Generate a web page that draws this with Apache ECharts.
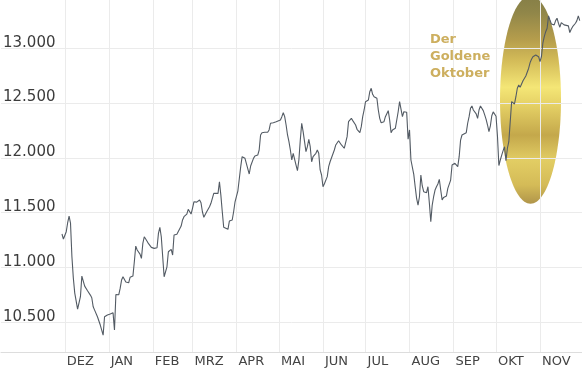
<!DOCTYPE html>
<html><head><meta charset="utf-8">
<script src="https://cdn.jsdelivr.net/npm/echarts@6/dist/echarts.min.js"></script>
<style>html,body{margin:0;padding:0;background:#fff}#c{width:582px;height:370px}</style>
</head><body><div id="c"></div>
<script>
// German month tick labels (index = JS month)
const monthNames = ['JAN','FEB','MRZ','APR','MAI','JUN','JUL','AUG','SEP','OKT','NOV','DEZ'];
// y-axis tick labels
const yTicks = [10500, 11000, 11500, 12000, 12500, 13000];
// Annotation text
const annotation = ['Der', 'Goldene', 'Oktober'];
// Days since 2018-12-01 for each reading
const dayOffsets = [-2,-1,1,2,3,4,5,6,7,9,11,12,13,14,16,18,19,20,21,23,25,27,28,30,32,33,34,35,36,37,38,39,40,41,43,45,46,48,49,50,51,53,54,55,56,58,59,61,63,65,66,67,68,70,72,73,75,76,77,79,80,82,83,84,86,87,89,90,91,93,95,96,97,98,100,102,103,105,106,108,109,110,111,112,113,115,116,118,119,120,122,123,124,125,127,128,130,131,133,134,136,137,138,139,141,143,144,145,146,147,149,150,152,153,154,155,156,157,158,159,160,161,163,164,165,166,167,168,169,170,171,172,173,174,175,177,178,179,180,181,182,183,185,186,187,188,190,191,193,194,195,197,198,199,200,202,203,205,206,208,209,210,211,212,214,215,216,217,218,220,221,222,223,225,226,228,229,230,231,233,234,235,236,237,238,239,240,241,242,243,244,246,247,248,249,250,251,252,253,255,256,257,258,259,260,261,262,263,264,265,266,267,269,270,271,272,273,274,275,277,278,279,280,281,283,284,285,286,287,288,290,291,292,293,295,296,297,298,299,300,301,302,303,304,305,306,307,308,309,310,311,312,313,314,315,316,317,318,319,320,321,322,323,325,326,327,328,329,330,332,333,334,335,336,337,338,339,340,341,342,343,345,346,347,348,349,350,351,352,353,355,356,357,358,360,361,362,363];
// Index values
const values = [11306,11260,11327,11409,11470,11406,11099,10904,10767,10621,10734,10922,10922,10831,10788,10749,10725,10642,10612,10551,10476,10384,10551,10567,10576,10567,10587,10430,10755,10749,10752,10810,10886,10916,10868,10861,10911,10922,11053,11196,11160,11123,11084,11221,11281,11240,11218,11184,11175,11181,11312,11367,11281,10916,11007,11144,11166,11114,11297,11303,11312,11379,11434,11464,11488,11531,11488,11540,11600,11597,11616,11591,11509,11458,11509,11555,11586,11677,11671,11677,11783,11661,11509,11367,11358,11349,11424,11434,11509,11600,11700,11810,11920,12011,11996,11981,11853,11926,11996,12017,12026,12072,12209,12230,12234,12234,12255,12316,12300,12321,12330,12340,12346,12376,12412,12376,12300,12209,12148,12072,11981,12042,11935,11883,11981,12163,12316,12239,12148,12057,12102,12170,12102,11965,12011,12042,12072,12042,11890,11844,11737,11765,11829,11920,11965,11951,12072,12118,12157,12170,12118,12088,12088,12194,12330,12361,12340,12300,12261,12230,12285,12376,12437,12513,12528,12604,12635,12580,12558,12544,12437,12361,12321,12330,12376,12431,12346,12230,12255,12270,12285,12421,12513,12528,12376,12421,12416,12416,12170,12255,11981,11850,11737,11631,11570,11646,11844,11744,11692,11683,11737,11586,11418,11570,11646,11707,11737,11762,11805,11707,11616,11640,11652,11722,11707,11798,11935,11951,11951,11920,12011,12163,12209,12218,12230,12316,12376,12452,12474,12437,12401,12361,12437,12474,12431,12392,12352,12300,12239,12292,12384,12420,12437,12380,12200,11930,11981,12026,12066,12102,11974,12088,12148,12330,12513,12498,12492,12558,12635,12665,12644,12656,12704,12747,12756,12818,12869,12900,12923,12939,12948,12923,12878,12923,13046,13106,13151,13182,13295,13258,13222,13213,13252,13274,13228,13192,13234,13222,13213,13228,13204,13143,13173,13197,13228,13252,13295,13252];

const DAY = 864e5;
const base = new Date(2018, 11, 1).getTime();
const monthStarts = [];
for (let i = 0; i < 12; i++) monthStarts.push(new Date(2018, 11 + i, 1).getTime());
const seriesData = dayOffsets.map((d, i) => [base + d * DAY, values[i]]);
const fmt = v => String(v).replace(/\B(?=(\d{3})+(?!\d))/g, '.');

const chart = echarts.init(document.getElementById('c'), null, {renderer: 'canvas'});
chart.setOption({
  animation: false,
  grid: {left: 0, right: 0, top: 0, bottom: 18, containLabel: false},
  xAxis: {
    type: 'value',
    min: base - 45 * DAY,
    max: base + 364.6 * DAY,
    axisLine: {show: true, lineStyle: {color: '#dddddd', width: 1}},
    axisTick: {show: false, customValues: monthStarts},
    axisLabel: {
      customValues: monthStarts,
      formatter: v => monthNames[new Date(v).getMonth()],
      align: 'left', verticalAlign: 'top', lineHeight: 13,
      margin: 3, padding: [0, 0, 0, 2],
      color: '#444', fontSize: 13, fontFamily: 'DejaVu Sans'
    },
    splitLine: {show: true, lineStyle: {color: '#ebebeb', width: 1}}
  },
  yAxis: {
    type: 'value', min: 10230, max: 13440,
    axisLine: {show: false},
    axisTick: {show: false, customValues: yTicks},
    axisLabel: {
      inside: true, customValues: yTicks, formatter: fmt,
      align: 'left', verticalAlign: 'bottom', lineHeight: 11,
      margin: 2, color: '#3c3c3c', fontSize: 15, fontFamily: 'DejaVu Sans'
    },
    splitLine: {show: true, lineStyle: {color: '#ebebeb', width: 1}}
  },
  series: [{
    type: 'line', data: seriesData, showSymbol: false, symbol: 'none',
    lineStyle: {color: '#535b64', width: 1.1}, z: 3
  }]
});

const c = chart.convertToPixel({gridIndex: 0}, [base + 328.3 * DAY, 12530]);
chart.setOption({
  graphic: [
    {
      type: 'ellipse', z: -10, silent: true,
      shape: {cx: c[0], cy: c[1], rx: 30.5, ry: 104},
      style: {
        fill: new echarts.graphic.LinearGradient(0, 0, 0, 1, [
          {offset: 0, color: '#857e47'},
          {offset: 0.08, color: '#908649'},
          {offset: 0.21, color: '#b59d4c'},
          {offset: 0.31, color: '#d3bb58'},
          {offset: 0.44, color: '#f4e676'},
          {offset: 0.52, color: '#e6d266'},
          {offset: 0.67, color: '#c4a84b'},
          {offset: 0.79, color: '#e2cd64'},
          {offset: 0.91, color: '#d4bb57'},
          {offset: 1, color: '#b0954a'}
        ])
      }
    },
    {
      type: 'text', left: 430, top: 31.5, z: 5, silent: true,
      style: {
        text: annotation.join('\n'), fill: '#cdaf5f',
        font: 'bold 13px "DejaVu Sans"', lineHeight: 17
      }
    }
  ]
});
</script></body></html>
